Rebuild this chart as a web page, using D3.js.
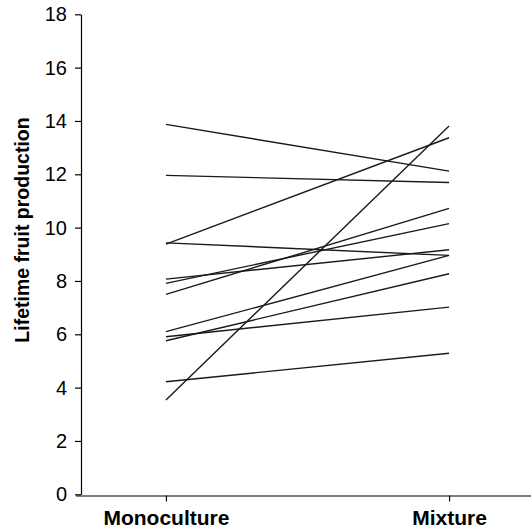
<!DOCTYPE html>
<html>
<head>
<meta charset="utf-8">
<script src="https://cdn.jsdelivr.net/npm/d3@7"></script>
<style>
  body { margin: 0; background: #fff; }
  text { font-family: "Liberation Sans", Arial, sans-serif; }
</style>
</head>
<body>
<div id="chart"></div>
<script>
// treatments and paired values (one line per genotype)
var groups = ["Monoculture", "Mixture"];
var monoculture = [13.87, 11.96, 9.38, 9.43, 8.07, 7.91, 7.50, 6.10, 5.91, 5.76, 4.22, 3.54];
var mixture     = [12.12, 11.69, 13.37, 8.96, 9.17, 10.15, 10.72, 8.96, 7.02, 8.27, 5.29, 13.81];
var yTicks = [0, 2, 4, 6, 8, 10, 12, 14, 16, 18];

var width = 531, height = 531;

var svg = d3.select("#chart")
  .append("svg")
    .attr("width", width)
    .attr("height", height);

// scales
var x = d3.scalePoint()
  .domain(groups)
  .range([81, 534])
  .padding(0.3);

var y = d3.scaleLinear()
  .domain([0, 18])
  .range([494.3, 14.3]);

// Y axis
var yAxis = svg.append("g")
  .attr("transform", "translate(81,0)")
  .call(d3.axisLeft(y).tickValues(yTicks).tickSize(6).tickSizeOuter(0).tickPadding(8));
yAxis.selectAll("text").style("font-size", "20px").attr("fill", "#000");
yAxis.selectAll("line, path").attr("stroke", "#000").attr("stroke-width", 1.2);

// X axis
var xAxis = svg.append("g")
  .attr("transform", "translate(0,495.5)")
  .call(d3.axisBottom(x).tickSize(6).tickSizeOuter(0).tickPadding(9));
xAxis.select(".domain").attr("d", "M76,0.5H531");
xAxis.selectAll("text").style("font-size", "21px").style("font-weight", "bold").attr("fill", "#000");
xAxis.selectAll("line, path").attr("stroke", "#000").attr("stroke-width", 1.2);

// Y axis label
svg.append("text")
  .attr("transform", "translate(29,230) rotate(-90)")
  .attr("text-anchor", "middle")
  .style("font-size", "19.5px")
  .style("font-weight", "bold")
  .text("Lifetime fruit production");

// paired lines
var pairs = monoculture.map(function(d, i) {
  return [{g: groups[0], v: d}, {g: groups[1], v: mixture[i]}];
});

var line = d3.line()
  .x(function(d) { return x(d.g); })
  .y(function(d) { return y(d.v); });

svg.append("g")
  .selectAll("path")
  .data(pairs)
  .enter()
  .append("path")
    .attr("d", line)
    .attr("fill", "none")
    .attr("stroke", "#1a1a1a")
    .attr("stroke-width", 1.4);
</script>
</body>
</html>
